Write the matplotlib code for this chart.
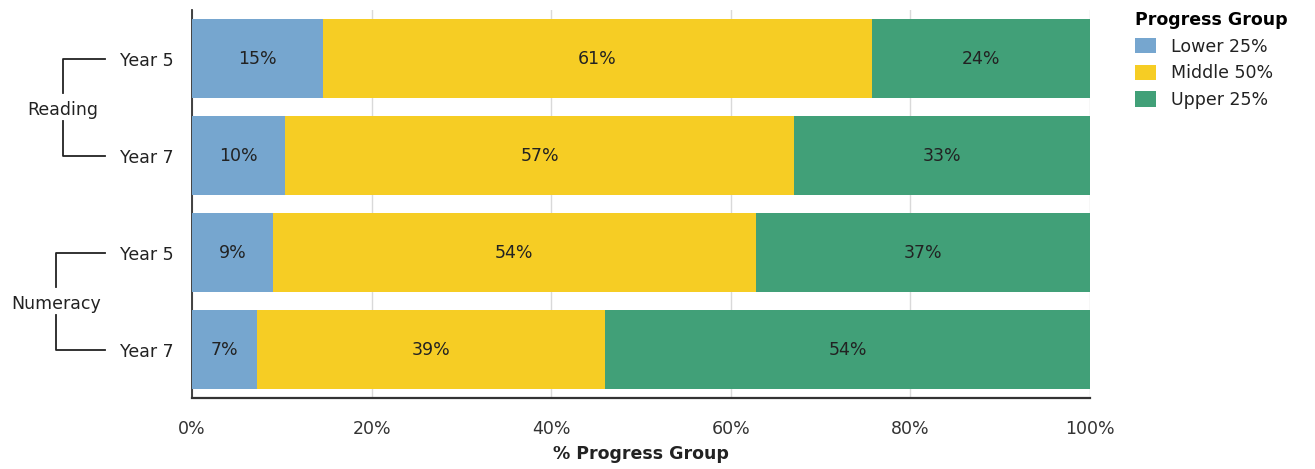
import matplotlib
matplotlib.use("Agg")
import matplotlib.pyplot as plt
from matplotlib.lines import Line2D
from matplotlib.patches import Patch
import matplotlib.transforms as mtransforms

groups = ["Reading", "Numeracy"]
years = ["Year 5", "Year 7", "Year 5", "Year 7"]
series = ["Lower 25%", "Middle 50%", "Upper 25%"]
lower = [14.6, 10.4, 9.0, 7.2]
middle = [61.1, 56.6, 53.8, 38.8]
upper = [24.3, 33.0, 37.2, 54.0]
xticks = [0, 20, 40, 60, 80, 100]

colors = ["#76A6CF", "#F6CD24", "#41A078"]

FS = 12.5
plt.rcParams['font.family'] = ['DejaVu Sans']
fig = plt.figure(figsize=(13.15, 4.69), dpi=100)
ax = fig.add_axes([192/1315, 1-398/469, 898/1315, 388/469])

ypos = list(range(len(years)))
left = [0]*len(years)
for vals, c in zip([lower, middle, upper], colors):
    bars = ax.barh(ypos, vals, left=left, height=0.82, color=c, zorder=3)
    for yp, v, l in zip(ypos, vals, left):
        ax.text(l + v/2, yp, f"{round(v):d}%", ha='center', va='center',
                fontsize=FS, color='#222222', zorder=4)
    left = [a+b for a, b in zip(left, vals)]

ax.set_ylim(len(years)-0.5, -0.5)
ax.set_xlim(0, 100)
ax.set_xticks(xticks)
ax.set_xticklabels([f"{t}%" for t in xticks], fontsize=FS, color='#333333')
ax.set_yticks(ypos)
ax.set_yticklabels(years, fontsize=FS, color='#222222')
ax.tick_params(axis='y', length=0, pad=13)
ax.tick_params(axis='x', length=0, pad=16)
ax.grid(axis='x', color='#D9D9D9', linewidth=1, zorder=0)
ax.set_axisbelow(True)
for s in ['top', 'right']:
    ax.spines[s].set_visible(False)
ax.spines['left'].set_color('#333333')
ax.spines['bottom'].set_color('#333333')
ax.spines['left'].set_linewidth(1.3)
ax.spines['bottom'].set_linewidth(1.6)
ax.set_xlabel("% Progress Group", fontsize=12.5, fontweight='bold', color='#222222', labelpad=5)

# group brackets
trans = mtransforms.blended_transform_factory(fig.transFigure, ax.transData)
bracket_x = [63/1315, 56/1315]
x_end = 105/1315
for gi, g in enumerate(groups):
    y0, y1 = 2*gi, 2*gi+1
    ym = (y0 + y1) / 2
    bx = bracket_x[gi]
    kw = dict(transform=trans, color='#222222', linewidth=1.3, clip_on=False)
    ax.add_line(Line2D([x_end, bx, bx], [y0, y0, ym-0.14], **kw))
    ax.add_line(Line2D([x_end, bx, bx], [y1, y1, ym+0.14], **kw))
    ax.text(bx, ym + 0.03, g, transform=trans, ha='center', va='center', fontsize=FS,
            color='#222222', clip_on=False)

handles = [Patch(facecolor=c, edgecolor='none') for c in colors]
leg = fig.legend(handles, series, loc='upper left', bbox_to_anchor=(1128/1315, 1-4/469),
                 frameon=False, fontsize=FS, title="Progress Group",
                 title_fontproperties={'weight': 'bold', 'size': 12.5},
                 handlelength=1.2, handleheight=1.0, handletextpad=0.9,
                 labelspacing=0.5, borderaxespad=0)
leg._legend_box.align = "left"
for t in leg.get_texts():
    t.set_color('#222222')

fig.savefig("out.png", dpi=100)
